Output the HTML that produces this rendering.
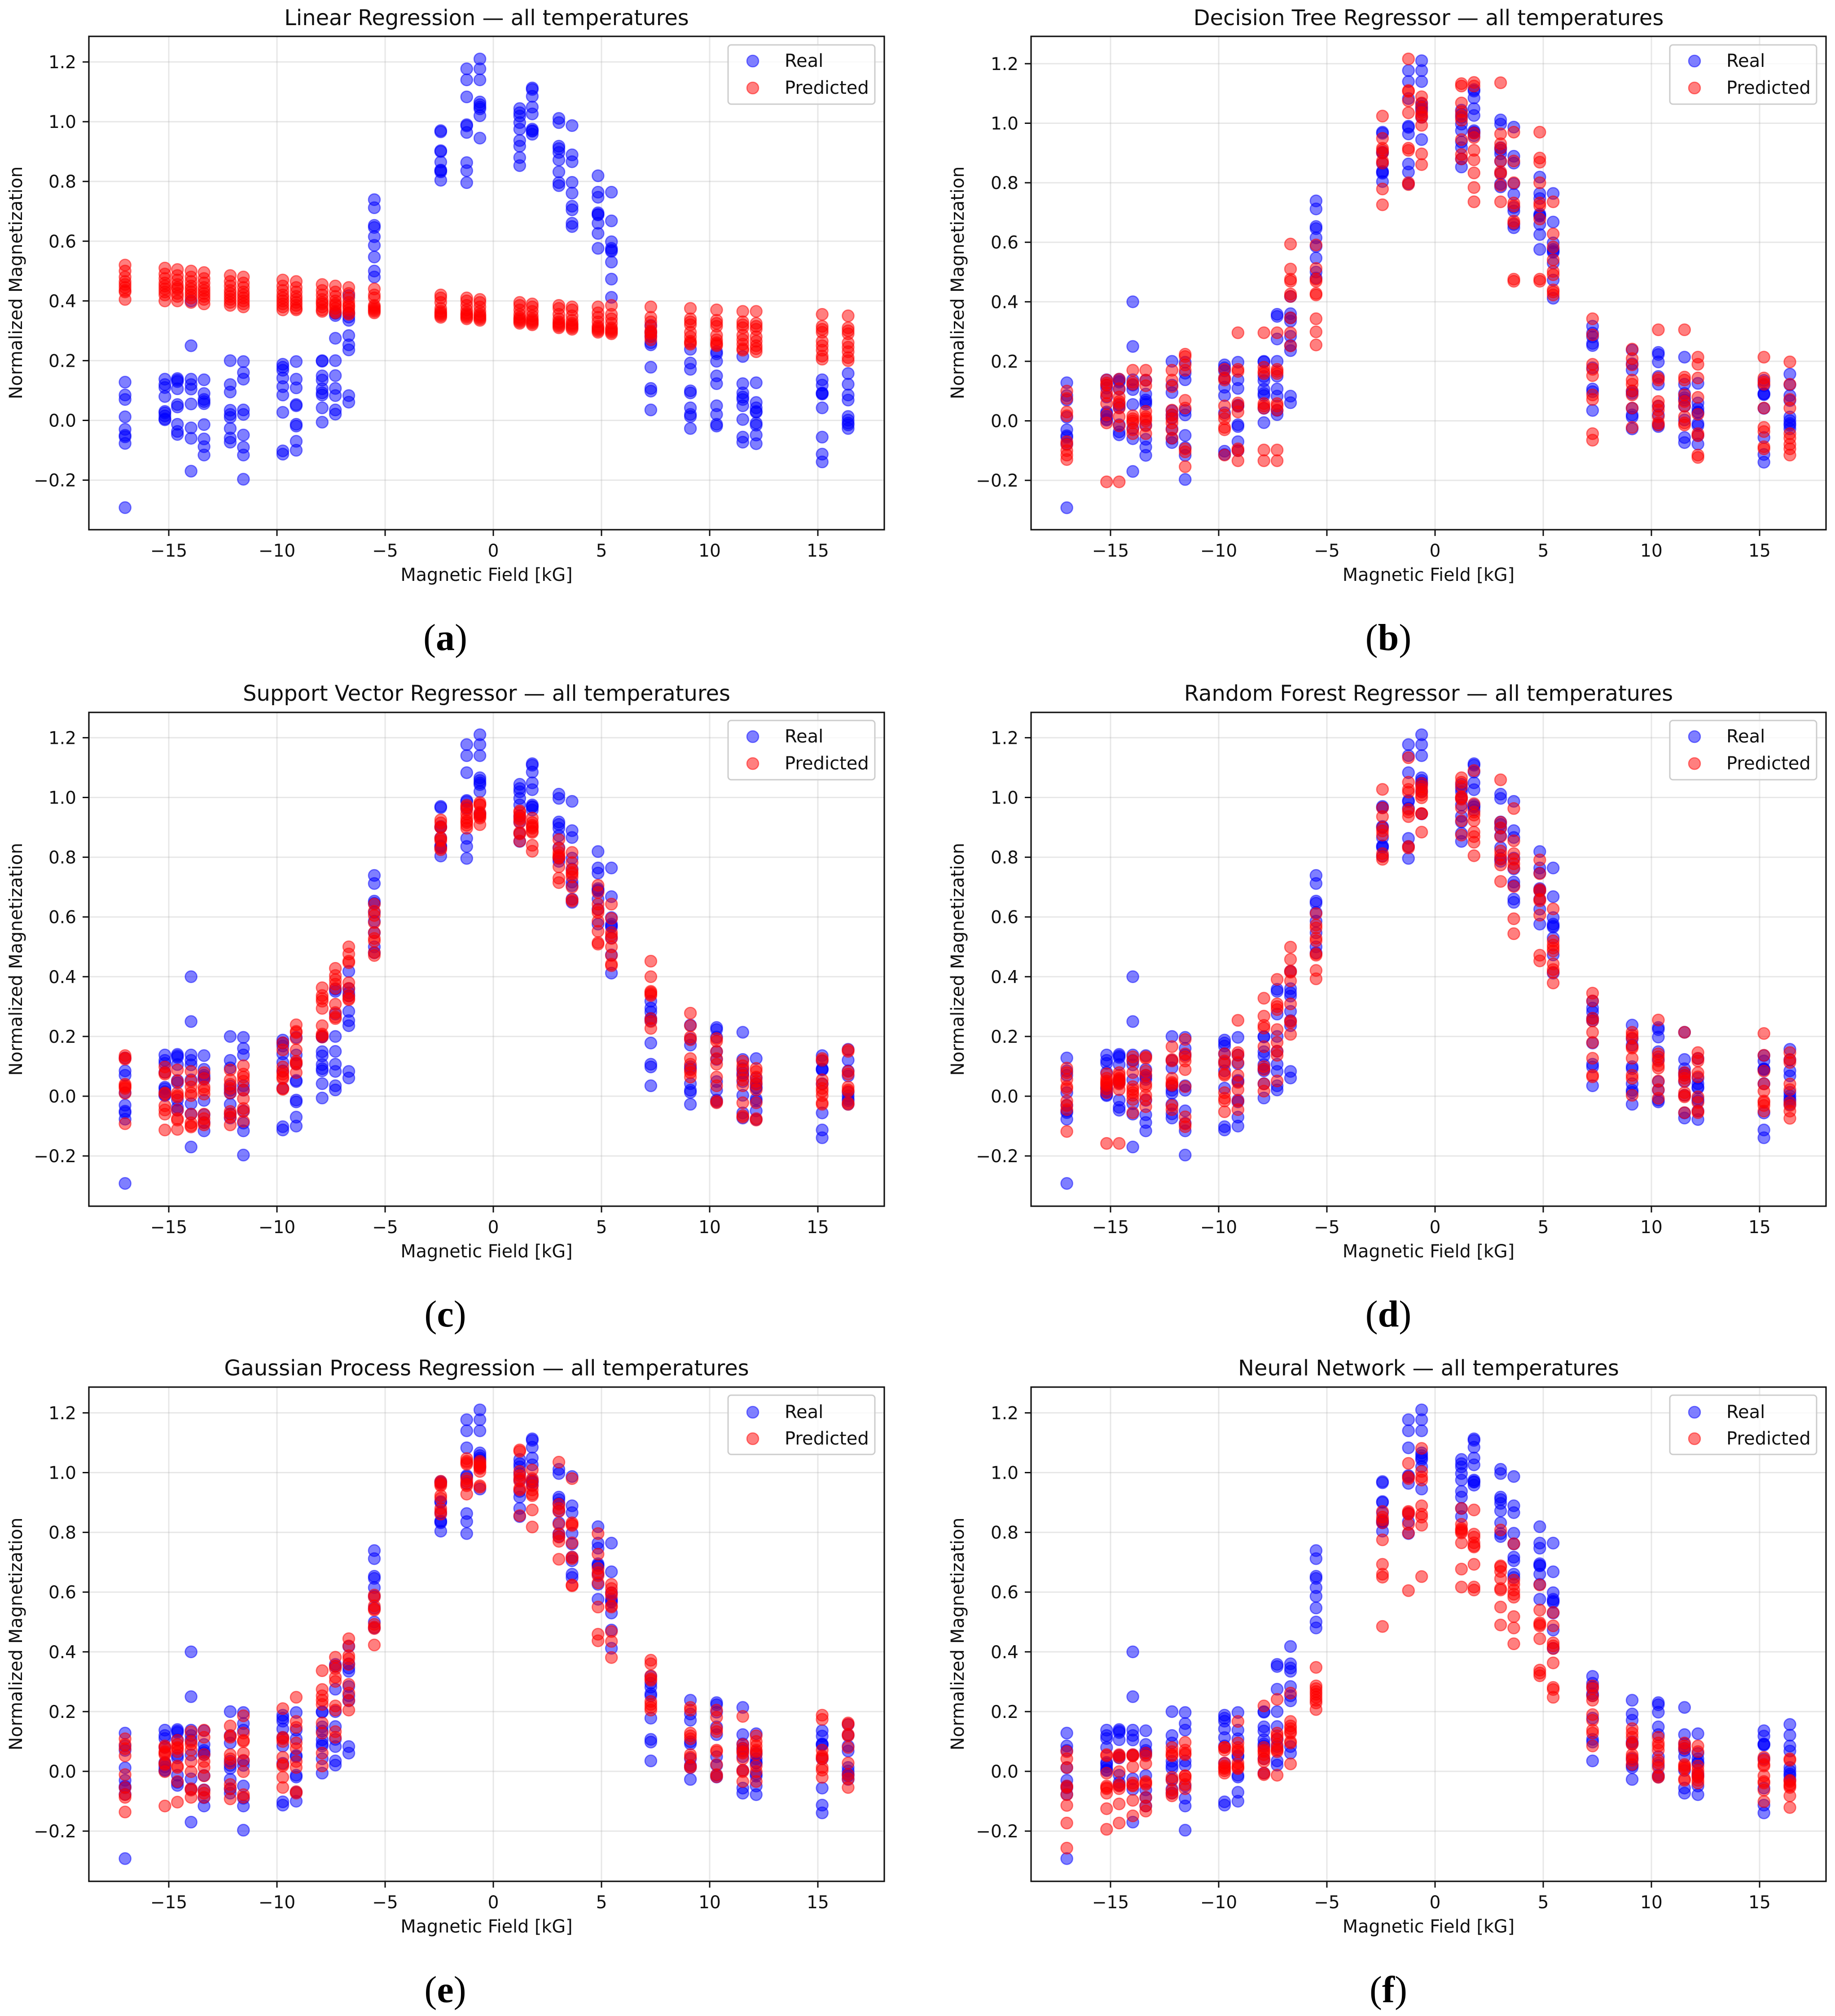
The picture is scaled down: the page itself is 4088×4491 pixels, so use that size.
<!DOCTYPE html>
<html lang="en">
<head>
<meta charset="utf-8">
<title>Regression models: real vs predicted normalized magnetization</title>
<style>
html,body{margin:0;padding:0;background:#fff;width:4088px;height:4491px;overflow:hidden}
svg{display:block}
text{font-family:"DejaVu Sans","Liberation Sans",sans-serif;fill:#111}
.title{font-size:47.9px;text-anchor:middle}
.axis-label{font-size:39.7px;text-anchor:middle}
.legend-text{font-size:40px}
.caption{font-family:"Liberation Serif",serif;font-size:84px;text-anchor:middle;fill:#000}
.caption tspan{font-weight:bold}
.legend-box{fill:#fff;fill-opacity:.8;stroke:#ccc;stroke-width:3}
.real-key{fill:#00f;fill-opacity:.5;stroke:#00f;stroke-opacity:.5;stroke-width:2.6}
.pred-key{fill:#f00;fill-opacity:.5;stroke:#f00;stroke-opacity:.5;stroke-width:2.6}
</style>
</head>
<body>
<svg id="fig" xmlns="http://www.w3.org/2000/svg" width="4088" height="4491" viewBox="0 0 4088 4491">
<rect width="4088" height="4491" fill="#fff"/>

<g>
<text class="title" x="1084" y="56">Linear Regression — all temperatures</text>
<g id="plot-a"></g>
<text class="axis-label" x="1084" y="1294">Magnetic Field [kG]</text>
<text class="axis-label" transform="translate(49 630) rotate(-90)">Normalized Magnetization</text>
<g>
<rect class="legend-box" x="1622" y="100" width="327" height="132" rx="7"/>
<circle class="real-key" cx="1677" cy="136" r="13"/>
<text class="legend-text" x="1748" y="149">Real</text>
<circle class="pred-key" cx="1677" cy="196" r="13"/>
<text class="legend-text" x="1748" y="209">Predicted</text>
</g>
<text class="caption" x="992" y="1448">(<tspan>a</tspan>)</text>
</g>

<g>
<text class="title" x="3182.5" y="56">Decision Tree Regressor — all temperatures</text>
<g id="plot-b"></g>
<text class="axis-label" x="3182.5" y="1294">Magnetic Field [kG]</text>
<text class="axis-label" transform="translate(2147 630) rotate(-90)">Normalized Magnetization</text>
<g>
<rect class="legend-box" x="3720" y="100" width="327" height="132" rx="7"/>
<circle class="real-key" cx="3775" cy="136" r="13"/>
<text class="legend-text" x="3846" y="149">Real</text>
<circle class="pred-key" cx="3775" cy="196" r="13"/>
<text class="legend-text" x="3846" y="209">Predicted</text>
</g>
<text class="caption" x="3093" y="1448">(<tspan>b</tspan>)</text>
</g>

<g>
<text class="title" x="1084" y="1561">Support Vector Regressor — all temperatures</text>
<g id="plot-c"></g>
<text class="axis-label" x="1084" y="2801">Magnetic Field [kG]</text>
<text class="axis-label" transform="translate(49 2137) rotate(-90)">Normalized Magnetization</text>
<g>
<rect class="legend-box" x="1622" y="1605" width="327" height="132" rx="7"/>
<circle class="real-key" cx="1677" cy="1641" r="13"/>
<text class="legend-text" x="1748" y="1654">Real</text>
<circle class="pred-key" cx="1677" cy="1701" r="13"/>
<text class="legend-text" x="1748" y="1714">Predicted</text>
</g>
<text class="caption" x="992" y="2955">(<tspan>c</tspan>)</text>
</g>

<g>
<text class="title" x="3182.5" y="1561">Random Forest Regressor — all temperatures</text>
<g id="plot-d"></g>
<text class="axis-label" x="3182.5" y="2801">Magnetic Field [kG]</text>
<text class="axis-label" transform="translate(2147 2137) rotate(-90)">Normalized Magnetization</text>
<g>
<rect class="legend-box" x="3720" y="1605" width="327" height="132" rx="7"/>
<circle class="real-key" cx="3775" cy="1641" r="13"/>
<text class="legend-text" x="3846" y="1654">Real</text>
<circle class="pred-key" cx="3775" cy="1701" r="13"/>
<text class="legend-text" x="3846" y="1714">Predicted</text>
</g>
<text class="caption" x="3093" y="2955">(<tspan>d</tspan>)</text>
</g>

<g>
<text class="title" x="1084" y="3064">Gaussian Process Regression — all temperatures</text>
<g id="plot-e"></g>
<text class="axis-label" x="1084" y="4305">Magnetic Field [kG]</text>
<text class="axis-label" transform="translate(49 3640) rotate(-90)">Normalized Magnetization</text>
<g>
<rect class="legend-box" x="1622" y="3108" width="327" height="132" rx="7"/>
<circle class="real-key" cx="1677" cy="3146" r="13"/>
<text class="legend-text" x="1748" y="3159">Real</text>
<circle class="pred-key" cx="1677" cy="3205" r="13"/>
<text class="legend-text" x="1748" y="3218">Predicted</text>
</g>
<text class="caption" x="992" y="4460">(<tspan>e</tspan>)</text>
</g>

<g>
<text class="title" x="3182.5" y="3064">Neural Network — all temperatures</text>
<g id="plot-f"></g>
<text class="axis-label" x="3182.5" y="4305">Magnetic Field [kG]</text>
<text class="axis-label" transform="translate(2147 3640) rotate(-90)">Normalized Magnetization</text>
<g>
<rect class="legend-box" x="3720" y="3108" width="327" height="132" rx="7"/>
<circle class="real-key" cx="3775" cy="3146" r="13"/>
<text class="legend-text" x="3846" y="3159">Real</text>
<circle class="pred-key" cx="3775" cy="3205" r="13"/>
<text class="legend-text" x="3846" y="3218">Predicted</text>
</g>
<text class="caption" x="3093" y="4460">(<tspan>f</tspan>)</text>
</g>
</svg>

<script>
var fieldValues = [-17.02,-15.18,-14.6,-13.97,-13.37,-12.16,-11.55,-9.73,-9.11,-7.91,-7.3,-6.68,-5.5,-2.43,-1.23,-0.62,1.22,1.8,3.03,3.64,4.84,5.46,7.28,9.11,10.32,11.53,12.15,15.2,16.4];
var xTickValues = [-15,-10,-5,0,5,10,15];
var xTickLabels = ["−15","−10","−5","0","5","10","15"];
var yTickValues = [-0.2,0,0.2,0.4,0.6,0.8,1,1.2];
var yTickLabels = ["−0.2","0.0","0.2","0.4","0.6","0.8","1.0","1.2"];

var realValues = [
[.128,.085,.07,.012,-.03,-.05,-.055,-.077,-.292],
[.138,.12,.11,.08,.03,.025,.015,.005,.002],
[.14,.135,.13,.106,.053,.045,-.013,-.037,-.047],
[.40,.25,.138,.12,.105,.055,-.025,-.06,-.17],
[.136,.09,.07,.063,.056,-.014,-.062,-.088,-.116],
[.2,.12,.095,.034,.02,.01,-.027,-.059,-.073],
[.197,.16,.138,.035,.02,-.049,-.09,-.116,-.197],
[.188,.178,.168,.142,.113,.085,.027,-.102,-.113],
[.197,.138,.109,.053,.049,-.013,-.019,-.07,-.1],
[.2,.198,.149,.135,.106,.092,.085,.042,-.006],
[.358,.351,.275,.2,.15,.107,.083,.035,.021],
[.418,.36,.346,.284,.253,.236,.083,.061,.335],
[.739,.712,.653,.646,.615,.586,.547,.5,.48],
[.97,.966,.903,.9,.865,.836,.832,.804,.838],
[1.177,1.14,1.083,.99,.986,.964,.863,.836,.796],
[1.21,1.177,1.14,1.066,1.057,1.049,1.043,1.02,.945],
[1.044,1.03,1.019,.997,.975,.937,.918,.88,.853],
[1.113,1.108,1.085,1.049,1.026,.975,.968,.958,.97],
[1.011,.997,.918,.91,.897,.872,.832,.796,.786],
[.987,.889,.866,.797,.761,.717,.705,.66,.649],
[.819,.764,.747,.695,.688,.66,.626,.576,.69],
[.764,.668,.598,.576,.566,.53,.473,.412,.57],
[.318,.295,.282,.26,.253,.178,.107,.098,.035],
[.238,.192,.171,.099,.092,.042,.02,.013,-.027],
[.23,.223,.198,.149,.123,.049,.02,-.013,-.019],
[.214,.123,.092,.078,.07,.049,.003,-.056,-.073],
[.126,.06,.042,.027,-.009,-.016,-.049,-.078,.03],
[.136,.118,.092,.088,.042,-.056,-.113,-.139,.09],
[.157,.121,.085,.068,.013,.001,-.009,-.027,-.015]
];

var predictedLinear = [
[.52,.50,.48,.465,.455,.445,.435,.43,.405],
[.51,.49,.475,.46,.45,.44,.43,.42,.40],
[.505,.485,.47,.455,.445,.44,.425,.415,.40],
[.50,.48,.465,.45,.44,.43,.42,.41,.395],
[.495,.475,.46,.445,.435,.425,.415,.405,.39],
[.485,.465,.45,.435,.425,.415,.405,.395,.385],
[.48,.46,.445,.43,.42,.41,.40,.39,.38],
[.47,.45,.435,.42,.41,.40,.39,.38,.37],
[.465,.445,.43,.415,.405,.395,.385,.375,.37],
[.455,.435,.42,.405,.395,.39,.38,.37,.365],
[.45,.43,.415,.40,.39,.385,.375,.365,.36],
[.445,.425,.41,.395,.385,.38,.37,.36,.355],
[.44,.42,.41,.385,.38,.375,.37,.365,.36],
[.42,.41,.395,.375,.365,.36,.355,.35,.345],
[.41,.40,.385,.37,.36,.355,.35,.345,.34],
[.405,.395,.38,.365,.355,.35,.345,.34,.335],
[.395,.385,.37,.355,.345,.34,.335,.33,.325],
[.39,.38,.365,.35,.34,.335,.33,.325,.32],
[.385,.375,.355,.34,.33,.325,.32,.315,.31],
[.38,.37,.35,.335,.325,.32,.315,.31,.305],
[.38,.36,.345,.33,.315,.31,.305,.30,.295],
[.385,.355,.34,.325,.31,.305,.30,.295,.29],
[.38,.345,.33,.315,.30,.295,.29,.28,.27],
[.375,.34,.33,.32,.295,.28,.265,.26,.255],
[.37,.335,.325,.315,.285,.27,.26,.255,.25],
[.365,.33,.32,.31,.285,.27,.255,.24,.235],
[.365,.325,.315,.305,.28,.265,.25,.24,.23],
[.355,.315,.305,.295,.265,.25,.235,.215,.205],
[.35,.31,.30,.29,.26,.245,.23,.21,.20]
];

var predictedTree = [
[.10,.075,.03,.017,-.07,-.08,-.10,-.115,-.13],
[.137,.127,.12,.094,.084,.058,.02,-.007,-.205],
[.14,.108,.08,.065,.058,.043,.014,-.017,-.205],
[.17,.13,.123,.017,.007,0,-.007,-.03,-.043],
[.17,.137,.118,.032,.014,.007,0,-.017,-.043],
[.17,.137,.115,.036,.02,.007,-.007,-.03,-.058],
[.224,.216,.188,.17,.069,.043,-.094,-.104,-.154],
[.173,.144,.137,.05,.02,.007,-.022,-.03,-.115],
[.296,.173,.166,.06,.05,.03,-.094,-.1,-.134],
[.296,.18,.166,.159,.058,.05,.043,-.098,-.134],
[.296,.173,.166,.159,.058,.05,.036,-.098,-.134],
[.594,.51,.476,.469,.426,.418,.346,.296,.252],
[.591,.512,.476,.469,.428,.423,.343,.299,.255],
[1.024,.949,.916,.909,.90,.873,.866,.779,.726],
[1.216,1.11,1.107,1.075,1.035,.916,.909,.80,.794],
[1.089,1.068,1.053,1.036,1.027,1.02,.993,.897,.861],
[1.133,1.125,1.068,1.039,1.024,1.01,.945,.895,.88],
[1.137,1.125,.967,.952,.909,.877,.833,.784,.736],
[1.136,.964,.931,.916,.873,.837,.83,.791,.736],
[.97,.873,.80,.732,.722,.671,.664,.476,.469],
[.97,.883,.869,.80,.732,.722,.678,.476,.469],
[.736,.628,.584,.541,.502,.491,.44,.433,.423],
[.343,.289,.19,.173,.152,.087,.072,-.043,-.065],
[.241,.209,.188,.137,.123,.101,.087,.043,-.022],
[.306,.144,.137,.065,.05,.036,.014,-.007,-.014],
[.306,.147,.137,.087,.065,.05,.014,-.007,-.014],
[.214,.19,.144,.079,.022,-.043,-.05,-.115,-.123],
[.214,.144,.13,.123,.043,-.022,-.036,-.087,-.094],
[.198,.123,.072,.043,-.043,-.058,-.079,-.094,-.115]
];

var predictedSupportVector = [
[.136,.128,.124,.04,.035,.031,.026,.01,-.092],
[.098,.079,.074,.011,.007,-.032,-.046,-.06,-.113],
[.088,.05,.011,.002,-.003,-.046,-.075,-.08,-.111],
[.083,.05,.031,.011,.002,-.06,-.089,-.099,-.103],
[.079,.059,.031,.021,.007,-.06,-.075,-.089,-.096],
[.088,.055,.04,.026,.011,-.051,-.06,-.07,-.096],
[.102,.074,.064,.05,.021,-.008,-.041,-.051,-.084],
[.179,.155,.098,.083,.074,.064,.059,.026,.023],
[.239,.217,.213,.193,.155,.117,.112,.107,.079],
[.363,.337,.327,.318,.294,.236,.208,.203,.198],
[.428,.404,.39,.375,.361,.308,.28,.265,.26],
[.50,.476,.452,.447,.38,.361,.337,.327,.323],
[.643,.619,.605,.581,.548,.528,.519,.481,.471],
[.925,.915,.90,.90,.865,.86,.855,.83,.825],
[.974,.969,.959,.945,.931,.921,.916,.907,.897],
[.983,.977,.974,.95,.945,.94,.936,.931,.909],
[.955,.95,.94,.931,.926,.916,.883,.878,.854],
[.931,.916,.907,.902,.897,.887,.883,.84,.82],
[.859,.83,.816,.806,.801,.797,.768,.73,.715],
[.816,.782,.758,.749,.744,.734,.70,.658,.653],
[.706,.682,.643,.624,.615,.586,.552,.514,.509],
[.643,.595,.548,.538,.528,.50,.471,.442,.437],
[.452,.40,.351,.347,.342,.337,.26,.25,.227],
[.278,.236,.198,.189,.126,.107,.088,.079,.064],
[.193,.184,.15,.126,.107,.064,.035,-.017,-.022],
[.117,.102,.088,.069,.055,.035,-.022,-.065,-.07],
[.093,.083,.064,.05,.04,.021,-.022,-.075,-.08],
[.126,.12,.055,.04,.026,.016,.002,-.022,-.027],
[.155,.15,.083,.074,.031,.021,.016,-.022,-.027]
];

var predictedForest = [
[.094,.079,.056,.032,.025,-.016,-.031,-.045,-.118],
[.075,.06,.051,.046,.041,.036,.025,.012,-.158],
[.079,.07,.06,.056,.051,.046,.041,.022,-.158],
[.132,.118,.079,.032,.022,.012,.003,-.011,-.055],
[.132,.127,.084,.07,.041,.032,.003,-.011,-.035],
[.166,.123,.118,.06,.046,.041,.036,-.031,-.045],
[.19,.142,.132,.118,.089,.032,-.069,-.093,-.102],
[.142,.118,.108,.075,.07,.012,-.007,-.016,-.052],
[.254,.146,.137,.113,.07,.046,.022,-.016,-.045],
[.328,.268,.237,.228,.166,.099,.089,.041,.017],
[.391,.309,.30,.29,.223,.18,.151,.137,.051],
[.499,.458,.419,.415,.386,.309,.252,.247,.207],
[.611,.573,.563,.529,.52,.477,.472,.421,.393],
[1.027,.965,.936,.898,.888,.874,.812,.802,.793],
[1.133,1.051,1.027,1.018,.96,.951,.936,.836,.831],
[1.047,1.037,1.027,1.018,1.008,.999,.946,.946,.884],
[1.066,1.051,1.037,1.003,.999,.994,.965,.922,.874],
[1.09,.979,.951,.941,.922,.884,.869,.85,.805],
[1.059,.917,.898,.869,.821,.807,.793,.774,.719],
[.963,.855,.812,.793,.778,.764,.702,.594,.544],
[.791,.745,.692,.687,.659,.654,.606,.472,.453],
[.627,.52,.506,.496,.486,.443,.424,.415,.379],
[.345,.319,.261,.252,.214,.18,.127,.07,.065],
[.214,.204,.195,.166,.161,.127,.07,.06,.003],
[.255,.142,.132,.118,.103,.094,.051,.022,-.007],
[.214,.079,.07,.06,.051,.012,.003,-.002,-.055],
[.146,.127,.118,.079,.065,-.002,-.021,-.05,-.055],
[.21,.137,.084,.041,.017,-.016,-.021,-.031,-.05],
[.146,.123,.113,.041,.022,-.021,-.031,-.05,-.074]
];

var predictedGaussian = [
[.109,.09,.076,.052,-.011,-.054,-.078,-.087,-.136],
[.085,.08,.066,.061,.056,.028,.023,-.001,-.116],
[.104,.09,.08,.076,.066,.018,.013,-.034,-.103],
[.133,.10,.09,.071,.033,-.001,-.058,-.063,-.087],
[.138,.114,.056,.033,.013,-.015,-.063,-.073,-.087],
[.152,.119,.114,.056,.042,.028,-.044,-.058,-.092],
[.186,.128,.104,.10,.061,.037,-.001,-.078,-.087],
[.21,.114,.109,.10,.047,.023,.018,-.02,-.054],
[.248,.167,.147,.095,.076,.033,.013,-.068,-.073],
[.337,.274,.253,.238,.224,.162,.128,.061,.018],
[.382,.353,.344,.315,.301,.219,.205,.133,.114],
[.444,.42,.387,.377,.358,.291,.262,.238,.205],
[.59,.583,.554,.544,.54,.492,.483,.478,.423],
[.971,.966,.961,.956,.923,.914,.88,.87,.861],
[1.047,1.038,1.033,1.028,.98,.971,.961,.956,.928],
[1.038,1.033,1.028,1.023,1.018,1.014,1.004,.956,.951],
[1.076,1.071,1.004,.99,.98,.971,.947,.942,.856],
[1.009,.98,.971,.956,.942,.928,.923,.875,.818],
[1.035,.894,.88,.87,.827,.794,.784,.77,.71],
[.98,.832,.827,.823,.765,.717,.712,.624,.621],
[.796,.727,.679,.665,.655,.631,.55,.459,.437],
[.626,.612,.597,.588,.554,.55,.468,.435,.381],
[.372,.36,.32,.31,.305,.234,.224,.214,.205],
[.214,.205,.128,.119,.109,.056,.047,.018,.013],
[.205,.181,.143,.133,.071,.066,.023,-.011,-.018],
[.184,.09,.076,.066,.061,.042,.004,-.001,-.034],
[.119,.10,.085,.071,.066,.056,.018,-.001,-.034],
[.188,.174,.071,.052,.047,.042,.013,.004,-.02],
[.162,.157,.124,.119,.08,.028,-.011,-.025,-.054]
];

var predictedNeural = [
[.066,.042,.013,-.049,-.054,-.078,-.114,-.173,-.257],
[.056,.052,-.006,-.049,-.054,-.058,-.073,-.125,-.194],
[.056,.052,.047,-.001,-.044,-.049,-.058,-.109,-.173],
[.056,.052,.052,.015,-.039,-.046,-.049,-.097,-.149],
[.061,.052,.026,-.034,-.039,-.044,-.087,-.116,-.133],
[.08,.066,.056,.052,-.02,-.03,-.063,-.073,-.082],
[.097,.071,.061,.056,-.015,-.015,-.025,-.044,-.058],
[.08,.08,.071,.028,.018,.013,.009,.002,-.006],
[.167,.095,.08,.071,.066,.028,.018,.013,.009],
[.219,.08,.071,.066,.056,.042,.033,-.006,-.011],
[.241,.128,.119,.109,.09,.076,.071,.066,-.013],
[.262,.167,.152,.143,.133,.128,.10,.095,.025],
[.348,.286,.277,.267,.258,.248,.238,.229,.207],
[.87,.851,.842,.832,.775,.693,.66,.65,.485],
[1.031,.985,.98,.87,.866,.861,.827,.798,.605],
[1.081,1.004,.985,.975,.889,.861,.851,.824,.652],
[.88,.827,.813,.808,.803,.798,.765,.677,.617],
[.875,.794,.784,.765,.755,.751,.693,.617,.607],
[.808,.688,.684,.669,.645,.612,.607,.55,.49],
[.762,.64,.626,.607,.593,.583,.518,.48,.427],
[.624,.54,.497,.492,.487,.444,.339,.329,.32],
[.532,.487,.43,.42,.411,.363,.281,.274,.248],
[.286,.277,.253,.238,.19,.171,.138,.128,.085],
[.143,.128,.114,.095,.09,.056,.047,.037,.023],
[.114,.095,.085,.071,.037,.028,.013,-.015,-.02],
[.095,.085,.076,.023,.018,.013,.009,-.025,-.03],
[.085,.066,.018,.004,-.006,-.015,-.02,-.03,-.039],
[.047,.037,.023,.018,-.015,-.034,-.039,-.063,-.101],
[.042,.037,-.03,-.034,-.044,-.049,-.054,-.082,-.121]
];

var NS = "http://www.w3.org/2000/svg";
function makePanel(id, predicted, left, right, top, bottom, zeroX, zeroY, unitX, unitY) {
  return {id:id, predicted:predicted, left:left, right:right, top:top, bottom:bottom, zeroX:zeroX, zeroY:zeroY, unitX:unitX, unitY:unitY};
}
var panels = [
  makePanel("a", predictedLinear, 198, 1970, 81, 1180, 1099, 936.5, 48.2, 665.4),
  makePanel("b", predictedTree, 2297, 4068, 81, 1180, 3197, 937.5, 48.2, 663),
  makePanel("c", predictedSupportVector, 198, 1970, 1587, 2687, 1099, 2442, 48.2, 665.5),
  makePanel("d", predictedForest, 2297, 4068, 1587, 2687, 3197, 2442, 48.2, 665.5),
  makePanel("e", predictedGaussian, 198, 1970, 3090, 4191, 1099, 3946, 48.2, 665.5),
  makePanel("f", predictedNeural, 2297, 4068, 3090, 4191, 3197, 3946, 48.2, 665.5)
];
function xScale(p, v) { return p.zeroX + v * p.unitX; }
function yScale(p, v) { return p.zeroY - v * p.unitY; }

function setAttrs(el, attrs) {
  for (var k in attrs) el.setAttribute(k, attrs[k]);
}

function drawGrid(p, g) {
  xTickValues.forEach(function (t, i) {
    var line = document.createElementNS(NS, "line");
    var x = xScale(p, t);
    setAttrs(line, {x1:x, x2:x, y1:p.top, y2:p.bottom, stroke:"#b0b0b0", "stroke-opacity":.3, "stroke-width":3});
    
    
    g.appendChild(line);
  });
  yTickValues.forEach(function (t, i) {
    var line = document.createElementNS(NS, "line");
    var y = yScale(p, t);
    setAttrs(line, {x1:p.left, x2:p.right, y1:y, y2:y, stroke:"#b0b0b0", "stroke-opacity":.3, "stroke-width":3});
    
    
    g.appendChild(line);
  });
}

function drawSeries(p, g, values, color, pointName) {
  values.forEach(function (column, i) {
    column.forEach(function (v) {
      var c = document.createElementNS(NS, "circle");
      setAttrs(c, {cx:xScale(p, fieldValues[i]), cy:yScale(p, v), r:13, fill:color, "fill-opacity":.5, stroke:color, "stroke-opacity":.5, "stroke-width":2.6});
      
      
      g.appendChild(c);
    });
  });
}

function drawAxes(p, g) {
  var frame = document.createElementNS(NS, "rect");
  setAttrs(frame, {x:p.left, y:p.top, width:p.right - p.left, height:p.bottom - p.top, fill:"none", stroke:"#111", "stroke-width":3.2});
  
  
  g.appendChild(frame);

  xTickValues.forEach(function (t, i) {
    var x = xScale(p, t);
    var tick = document.createElementNS(NS, "line");
    setAttrs(tick, {x1:x, x2:x, y1:p.bottom, y2:p.bottom + 14, stroke:"#111", "stroke-width":3});
    
    
    g.appendChild(tick);
    var label = document.createElementNS(NS, "text");
    setAttrs(label, {x:x, y:p.bottom + 60, "text-anchor":"middle", "font-size":39});
    
    
    label.textContent = xTickLabels[i];
    g.appendChild(label);
  });
  yTickValues.forEach(function (t, i) {
    var y = yScale(p, t);
    var tick = document.createElementNS(NS, "line");
    setAttrs(tick, {x1:p.left - 14, x2:p.left, y1:y, y2:y, stroke:"#111", "stroke-width":3});
    
    
    g.appendChild(tick);
    var label = document.createElementNS(NS, "text");
    setAttrs(label, {x:p.left - 28, y:y + 14, "text-anchor":"end", "font-size":39});
    
    
    label.textContent = yTickLabels[i];
    g.appendChild(label);
  });
}

panels.forEach(function (p) {
  var g = document.getElementById("plot-" + p.id);
  drawGrid(p, g);
  drawSeries(p, g, realValues, "#0000ff", "real-point");
  drawSeries(p, g, p.predicted, "#ff0000", "predicted-point");
  drawAxes(p, g);
});
</script>
</body>
</html>
